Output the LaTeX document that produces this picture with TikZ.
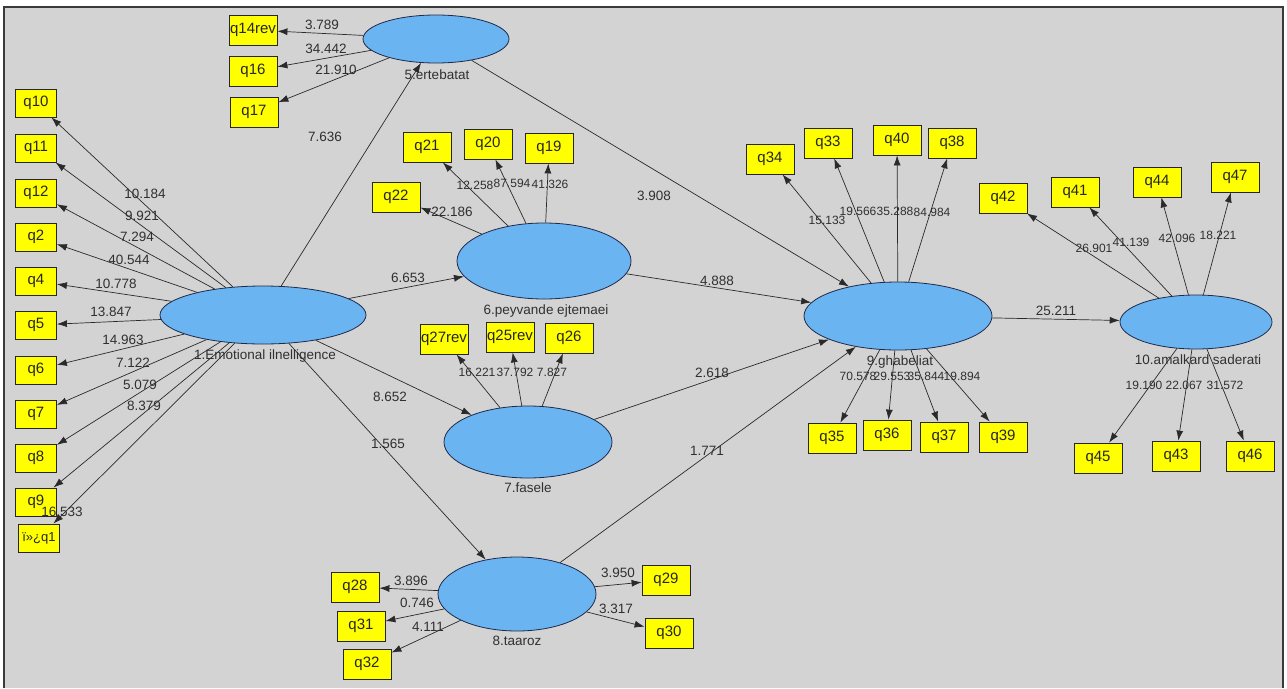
\documentclass[tikz,border=0pt]{standalone}
\usepackage{fontspec}
\setmainfont{Liberation Sans}
\usetikzlibrary{arrows.meta,shapes.geometric}
\definecolor{bgrey}{HTML}{D3D3D3}
\definecolor{frame}{HTML}{3A3A3A}
\definecolor{lvblue}{HTML}{6AB4F2}
\definecolor{lvline}{HTML}{1E2A4A}
\definecolor{edgec}{HTML}{2A2A2A}
\definecolor{lblc}{HTML}{303030}
\definecolor{boxy}{HTML}{FFFF00}
\tikzset{
  lvar/.style={ellipse, draw=lvline, fill=lvblue, line width=0.8pt, inner sep=0pt},
  ind/.style={rectangle, draw=black!85, fill=boxy, line width=0.8pt, inner sep=0pt,
    minimum width=48pt, minimum height=30pt, text=black!85, font=\fontsize{15}{16}\selectfont},
  indl/.style={ind, minimum width=41pt, minimum height=28pt},
  conn/.style={draw=edgec, line width=0.7pt, -{Latex[length=10pt,width=7pt]}},
  lbl/.style={inner sep=0pt, text=lblc, font=\fontsize{13.5}{15}\selectfont},
  lbls/.style={lbl, font=\fontsize{12}{14}\selectfont},
}
\begin{document}
\begin{tikzpicture}[x=1pt,y=-1pt]
\useasboundingbox (0,0) rectangle (1287,688);
\fill[white] (0,0) rectangle (1287,688);
\fill[bgrey] (4,7) rectangle (1283,688);
\draw[frame, line width=1.2pt] (4,688) -- (4,7) -- (1283,7) -- (1283,688);

% latent variables
\node[lvar, minimum width=206pt, minimum height=58pt] (EI) at (263,315) {};
\node[lvar, minimum width=146pt, minimum height=48pt] (ert) at (436,39) {};
\node[lvar, minimum width=174pt, minimum height=76pt] (pey) at (544,261) {};
\node[lvar, minimum width=168pt, minimum height=72pt] (fas) at (528,442) {};
\node[lvar, minimum width=158pt, minimum height=74pt] (taa) at (517,594) {};
\node[lvar, minimum width=188pt, minimum height=68pt] (gha) at (898,316) {};
\node[lvar, minimum width=152pt, minimum height=54pt] (ama) at (1196,322) {};

% left indicators
\node[indl] (q10) at (36,103) {q10};
\node[indl] (q11) at (36,148) {q11};
\node[indl] (q12) at (36,193) {q12};
\node[indl] (q2) at (36,237) {q2};
\node[indl] (q4) at (36,281) {q4};
\node[indl] (q5) at (36,325) {q5};
\node[indl] (q6) at (36,370) {q6};
\node[indl] (q7) at (36,414) {q7};
\node[indl] (q8) at (36,458) {q8};
\node[indl] (q9) at (36,502) {q9};
\node[indl, font=\fontsize{13}{14}\selectfont] (q1) at (39,538) {ï»¿q1};

% ertebatat indicators
\node[ind] (q14rev) at (253,30) {q14rev};
\node[ind] (q16) at (253,71) {q16};
\node[ind] (q17) at (254,112) {q17};

% peyvande indicators
\node[ind] (q21) at (427,147) {q21};
\node[ind] (q20) at (488,144) {q20};
\node[ind] (q19) at (549,148) {q19};
\node[ind] (q22) at (396,197) {q22};

% fasele indicators
\node[ind] (q27rev) at (444,339) {q27rev};
\node[ind] (q25rev) at (510,337) {q25rev};
\node[ind] (q26) at (569,338) {q26};

% taaroz indicators
\node[ind] (q28) at (355,587) {q28};
\node[ind] (q31) at (361,626) {q31};
\node[ind] (q32) at (367,664) {q32};
\node[ind] (q29) at (666,580) {q29};
\node[ind] (q30) at (669,633) {q30};

% ghabeliat indicators
\node[ind] (q34) at (770,159) {q34};
\node[ind] (q33) at (828,143) {q33};
\node[ind] (q40) at (897,140) {q40};
\node[ind] (q38) at (952,143) {q38};
\node[ind] (q35) at (832,438) {q35};
\node[ind] (q36) at (887,435) {q36};
\node[ind] (q37) at (944,437) {q37};
\node[ind] (q39) at (1003,437) {q39};

% amalkard indicators
\node[ind] (q42) at (1003,198) {q42};
\node[ind] (q41) at (1075,192) {q41};
\node[ind] (q44) at (1157,182) {q44};
\node[ind] (q47) at (1235,177) {q47};
\node[ind] (q45) at (1098,458) {q45};
\node[ind] (q43) at (1176,456) {q43};
\node[ind] (q46) at (1250,456) {q46};

% connectors: outer model
\foreach \t in {q10,q11,q12,q2,q4,q5,q6,q7,q8,q9,q1} \draw[conn] (EI) -- (\t);
\foreach \t in {q14rev,q16,q17} \draw[conn] (ert) -- (\t);
\foreach \t in {q21,q20,q19,q22} \draw[conn] (pey) -- (\t);
\foreach \t in {q27rev,q25rev,q26} \draw[conn] (fas) -- (\t);
\foreach \t in {q28,q31,q32,q29,q30} \draw[conn] (taa) -- (\t);
\foreach \t in {q34,q33,q40,q38,q35,q36,q37,q39} \draw[conn] (gha) -- (\t);
\foreach \t in {q42,q41,q44,q47,q45,q43,q46} \draw[conn] (ama) -- (\t);

% connectors: inner model
\draw[conn] (EI) -- (ert);
\draw[conn] (EI) -- (pey);
\draw[conn] (EI) -- (fas);
\draw[conn] (EI) -- (taa);
\draw[conn] (ert) -- (gha);
\draw[conn] (pey) -- (gha);
\draw[conn] (fas) -- (gha);
\draw[conn] (taa) -- (gha);
\draw[conn] (gha) -- (ama);

% latent variable names
\node[lbl] (nEI) at (265,356) {1.Emotional ilnelligence};
\node[lbl] (nert) at (437,75) {5.ertebatat};
\node[lbl] (npey) at (546,311) {6.peyvande ejtemaei};
\node[lbl] (nfas) at (528,488) {7.fasele};
\node[lbl] (ntaa) at (517,641) {8.taaroz};
\node[lbl] (ngha) at (900,362) {9.ghabeliat};
\node[lbl] (nama) at (1198,360) {10.amalkard saderati};

% path coefficient labels
\node[lbl] (l01) at (145,194) {10.184};
\node[lbl] (l02) at (142,216) {9.921};
\node[lbl] (l03) at (137,237) {7.294};
\node[lbl] (l04) at (129,260) {40.544};
\node[lbl] (l05) at (116,284) {10.778};
\node[lbl] (l06) at (111,312) {13.847};
\node[lbl] (l07) at (123,340) {14.963};
\node[lbl] (l08) at (133,363) {7.122};
\node[lbl] (l09) at (140,385) {5.079};
\node[lbl] (l10) at (144,406) {8.379};
\node[lbl] (l11) at (62,512) {16.533};

\node[lbl] (l12) at (322,25) {3.789};
\node[lbl] (l13) at (326,49) {34.442};
\node[lbl] (l14) at (336,70) {21.910};

\node[lbl] (l15) at (325,137) {7.636};
\node[lbl] (l16) at (654,196) {3.908};
\node[lbl] (l17) at (408,278) {6.653};
\node[lbl] (l18) at (452,212) {22.186};
\node[lbls] (l19) at (475,185) {12.258};
\node[lbls] (l20) at (512,183) {87.594};
\node[lbls] (l21) at (550,184) {41.326};

\node[lbl] (l22) at (390,397) {8.652};
\node[lbl] (l23) at (388,444) {1.565};
\node[lbls] (l24) at (477,372) {16.221};
\node[lbls] (l25) at (515,372) {37.792};
\node[lbls] (l26) at (552,372) {7.827};

\node[lbl] (l27) at (717,281) {4.888};
\node[lbl] (l28) at (712,373) {2.618};
\node[lbl] (l29) at (707,451) {1.771};

\node[lbl] (l30) at (411,581) {3.896};
\node[lbl] (l31) at (417,603) {0.746};
\node[lbl] (l32) at (428,627) {4.111};
\node[lbl] (l33) at (618,573) {3.950};
\node[lbl] (l34) at (616,609) {3.317};

\node[lbls] (l35) at (827,220) {15.133};
\node[lbls] (l36) at (858,211) {19.566};
\node[lbls] (l37) at (895,211) {35.288};
\node[lbls] (l38) at (932,212) {84.984};
\node[lbls] (l39) at (858,376) {70.578};
\node[lbls] (l40) at (892,376) {29.553};
\node[lbls] (l41) at (926,376) {35.844};
\node[lbls] (l42) at (962,376) {19.894};

\node[lbl] (l43) at (1056,311) {25.211};
\node[lbls] (l44) at (1094,248) {26.901};
\node[lbls] (l45) at (1131,242) {41.139};
\node[lbls] (l46) at (1177,238) {42.096};
\node[lbls] (l47) at (1218,235) {18.221};
\node[lbls] (l48) at (1144,385) {19.190};
\node[lbls] (l49) at (1184,385) {22.067};
\node[lbls] (l50) at (1225,385) {31.572};
\end{tikzpicture}
\end{document}
